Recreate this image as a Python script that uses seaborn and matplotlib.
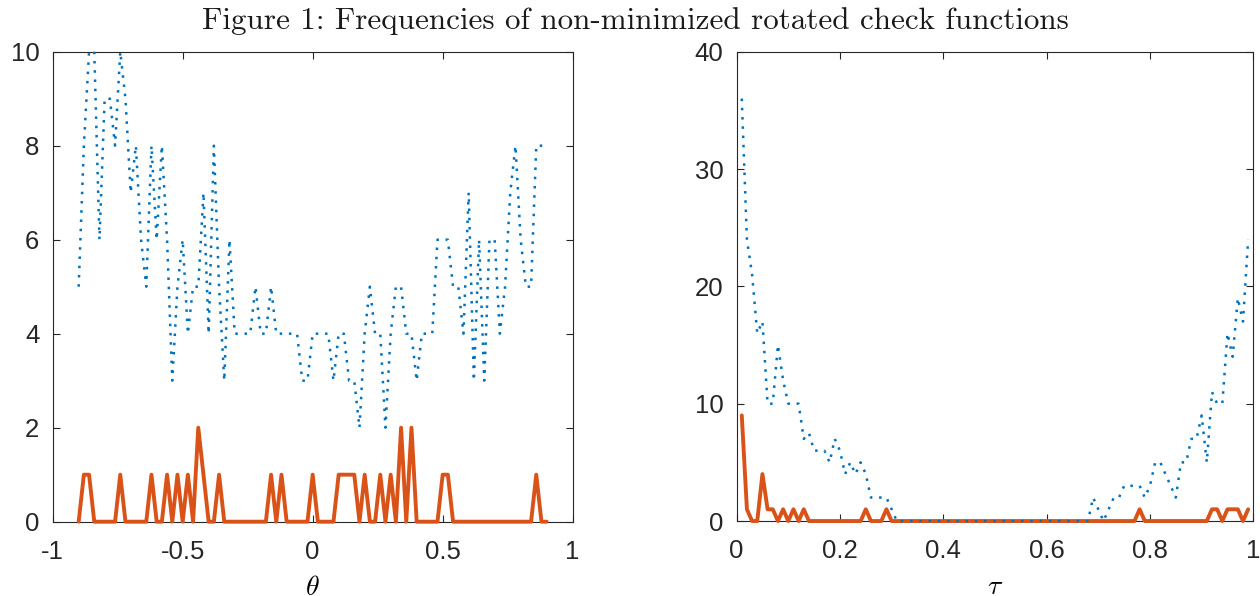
import numpy as np
import pandas as pd
import seaborn as sns
import matplotlib
from matplotlib import pyplot as plt
from matplotlib.ticker import FuncFormatter

matplotlib.use("Agg")

BLUE = "#0072BD"
RED = "#D95319"
AXIS_COLOR = "#262626"

TITLE = "Figure 1: Frequencies of non-minimized rotated check functions"

# left panel: rotation angle theta, step 0.02
theta = np.linspace(-0.9, 0.9, 91)
theta_all = [5, 8, 10, 10, 6, 9, 9, 8, 10, 9,
             7, 8, 6, 5, 8, 6, 8, 6, 3, 5,
             6, 4, 5, 5, 7, 4, 8, 5, 3, 6,
             4, 4, 4, 4, 5, 4, 4, 5, 4, 4,
             4, 4, 4, 3, 3, 4, 4, 4, 4, 3,
             4, 4, 3, 3, 2, 4, 5, 4, 4, 2,
             4, 5, 5, 4, 4, 3, 4, 4, 4, 6,
             6, 6, 5, 5, 4, 7, 3, 6, 3, 6,
             6, 4, 5, 7, 8, 6, 5, 5, 8, 8,
             8]
theta_min = [0, 1, 1, 0, 0, 0, 0, 0, 1, 0,
             0, 0, 0, 0, 1, 0, 0, 1, 0, 1,
             0, 1, 0, 2, 1, 0, 0, 1, 0, 0,
             0, 0, 0, 0, 0, 0, 0, 1, 0, 1,
             0, 0, 0, 0, 0, 1, 0, 0, 0, 0,
             1, 1, 1, 1, 0, 1, 0, 0, 1, 0,
             1, 0, 2, 0, 2, 0, 0, 0, 0, 0,
             1, 1, 0, 0, 0, 0, 0, 0, 0, 0,
             0, 0, 0, 0, 0, 0, 0, 0, 1, 0,
             0]

# right panel: quantile level tau, step 0.01
tau = np.linspace(0.01, 0.99, 99)
tau_all = [36, 24, 21, 16, 17, 10, 10, 15, 12, 10,
           10, 10, 7, 7.5, 6, 6, 6, 5, 7, 6,
           4, 5, 4, 5, 4, 2, 2, 2, 2, 1,
           0, 0, 0, 0, 0, 0, 0, 0, 0, 0,
           0, 0, 0, 0, 0, 0, 0, 0, 0, 0,
           0, 0, 0, 0, 0, 0, 0, 0, 0, 0,
           0, 0, 0, 0, 0, 0, 0, 0, 2, 1,
           0, 1, 2, 2, 3, 3, 3, 3, 2, 3,
           5, 5, 4, 3, 2, 5, 5, 7, 7, 9,
           5, 11, 10, 10, 16, 14, 19, 17, 24]
tau_min = [9, 1, 0, 0, 4, 1, 1, 0, 1, 0,
           1, 0, 1, 0, 0, 0, 0, 0, 0, 0,
           0, 0, 0, 0, 1, 0, 0, 0, 1, 0,
           0, 0, 0, 0, 0, 0, 0, 0, 0, 0,
           0, 0, 0, 0, 0, 0, 0, 0, 0, 0,
           0, 0, 0, 0, 0, 0, 0, 0, 0, 0,
           0, 0, 0, 0, 0, 0, 0, 0, 0, 0,
           0, 0, 0, 0, 0, 0, 0, 1, 0, 0,
           0, 0, 0, 0, 0, 0, 0, 0, 0, 0,
           0, 1, 1, 0, 1, 1, 1, 0, 1]

theta_xticks = [-1, -0.5, 0, 0.5, 1]
theta_yticks = [0, 2, 4, 6, 8, 10]
tau_xticks = [0, 0.2, 0.4, 0.6, 0.8, 1]
tau_yticks = [0, 10, 20, 30, 40]


def draw_panel(ax, x, all_counts, min_counts, xlim, ylim, xticks, yticks, xlabel):
    df = pd.DataFrame({"x": x, "all": all_counts, "min": min_counts})
    sns.lineplot(data=df, x="x", y="min", ax=ax, color=RED, linewidth=2.8,
                 clip_on=False, zorder=3)
    sns.lineplot(data=df, x="x", y="all", ax=ax, color=BLUE, linewidth=1.8,
                 linestyle=(0, (1, 2.7)), clip_on=False, zorder=4)

    ax.set_xlim(xlim)
    ax.set_ylim(ylim)
    ax.set_xticks(xticks)
    ax.set_yticks(yticks)
    fmt = FuncFormatter(lambda v, _: f"{v:g}")
    ax.xaxis.set_major_formatter(fmt)
    ax.yaxis.set_major_formatter(fmt)
    ax.tick_params(direction="in", length=5, width=0.8, top=True, right=True,
                   colors=AXIS_COLOR, labelsize=18.5)
    ax.tick_params(axis="x", pad=13)
    ax.tick_params(axis="y", pad=9.5)
    for spine in ax.spines.values():
        spine.set_visible(True)
        spine.set_color(AXIS_COLOR)
        spine.set_linewidth(0.8)

    ax.set_ylabel("")
    ax.set_xlabel(xlabel, fontsize=20, color="black")
    ax.xaxis.set_label_coords(0.5, -0.113)
    ax.xaxis.label.set_verticalalignment("top")


sns.set_theme(style="ticks")
plt.rcParams["font.family"] = ["Liberation Sans", "DejaVu Sans"]
plt.rcParams["mathtext.fontset"] = "cm"
plt.rcParams["axes.unicode_minus"] = False

fig = plt.figure(figsize=(12.6, 5.96), dpi=100)
ax_left = fig.add_axes([0.0418, 0.1247, 0.4127, 0.7886])
ax_right = fig.add_axes([0.5846, 0.1258, 0.4101, 0.7875])

draw_panel(ax_left, theta, theta_all, theta_min, (-1, 1), (0, 10),
           theta_xticks, theta_yticks, r"$\theta$")
draw_panel(ax_right, tau, tau_all, tau_min, (0, 1), (0, 40),
           tau_xticks, tau_yticks, r"$\tau$")

fig.text(0.504, 0.9513, TITLE, family="cmr10", fontsize=22.4, color="#1a1a1a",
         ha="center", va="baseline")

fig.savefig("out.png", dpi=100)
